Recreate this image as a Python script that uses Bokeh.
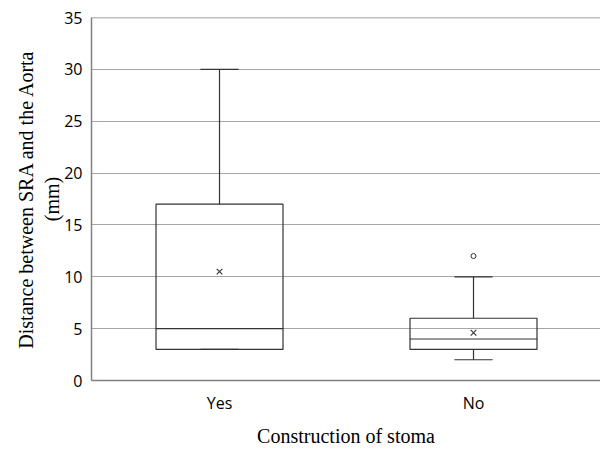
from bokeh.plotting import figure
from bokeh.models import Range1d, FixedTicker, Span, ColumnDataSource
from bokeh.embed import file_html
from bokeh.resources import INLINE

categories = ["Yes", "No"]
q1 = [3, 3]
median = [5, 4]
q3 = [17, 6]
lower = [3, 2]
upper = [30, 10]
mean = [10.5, 4.6]
outlier_cat = ["No"]
outlier_val = [12]
y_ticks = [0, 5, 10, 15, 20, 25, 30, 35]

pos = list(range(len(categories)))
src = ColumnDataSource(dict(x=pos, q1=q1, median=median, q3=q3, lower=lower,
                            upper=upper, mean=mean))
out_src = ColumnDataSource(dict(x=[categories.index(c) for c in outlier_cat], y=outlier_val))

p = figure(width=600, height=449, output_backend="svg", toolbar_location=None,
           x_range=Range1d(-0.504, 1.5), y_range=Range1d(0, 35),
           min_border_left=91, min_border_right=0, min_border_top=17, min_border_bottom=60)
p.outline_line_color = None
p.background_fill_color = "white"

line_col = "#333333"
box_w = 0.5
cap_w = 0.148

p.segment(x0="x", y0="q3", x1="x", y1="upper", source=src, line_color=line_col, line_width=1.2)
p.segment(x0="x", y0="lower", x1="x", y1="q1", source=src, line_color=line_col, line_width=1.2)
p.vbar(x="x", width=box_w, bottom="q1", top="q3", source=src, fill_color=None,
       line_color=line_col, line_width=1.2)
p.rect(x="x", y="median", width=box_w, height=0.001, source=src, line_color=line_col,
       fill_color=None, line_width=1.2)
p.rect(x="x", y="upper", width=cap_w, height=0.001, source=src, line_color=line_col, line_width=1.2)
p.rect(x="x", y="lower", width=cap_w, height=0.001, source=src, line_color=line_col, line_width=1.2)
p.scatter(x="x", y="mean", source=src, marker="x", size=8, line_color=line_col, line_width=1.1)
p.scatter(x="x", y="y", source=out_src, marker="circle", size=5, fill_color=None,
          line_color=line_col, line_width=1)

p.add_layout(Span(location=35, dimension="width", line_color="#808080", line_width=1.5))

p.yaxis.ticker = FixedTicker(ticks=y_ticks)
p.xaxis.ticker = FixedTicker(ticks=pos)
p.xaxis.major_label_overrides = {i: c for i, c in enumerate(categories)}

for ax in (p.xaxis, p.yaxis):
    ax.major_tick_line_color = None
    ax.minor_tick_line_color = None
    ax.axis_line_color = "#808080"
    ax.axis_line_width = 1.5
    ax.major_label_text_font = "Open Sans"
    ax.major_label_text_font_size = "16px"
    ax.major_label_text_color = "#000000"
    ax.axis_label_text_font = "Liberation Serif"
    ax.axis_label_text_font_size = "20px"
    ax.axis_label_text_font_style = "normal"
    ax.axis_label_text_color = "#000000"

p.xaxis.axis_label = "Construction of stoma"
p.yaxis.axis_label = "Distance between SRA and the Aorta\n(mm)"
p.xaxis.major_label_standoff = 5
p.xaxis.axis_label_standoff = 8
p.yaxis.major_label_standoff = 3
p.yaxis.axis_label_standoff = -2

p.xgrid.grid_line_color = None
p.ygrid.grid_line_color = "#a6a6a6"
p.ygrid.grid_line_width = 1.2

open("out.html", "w").write(file_html(p, INLINE))
